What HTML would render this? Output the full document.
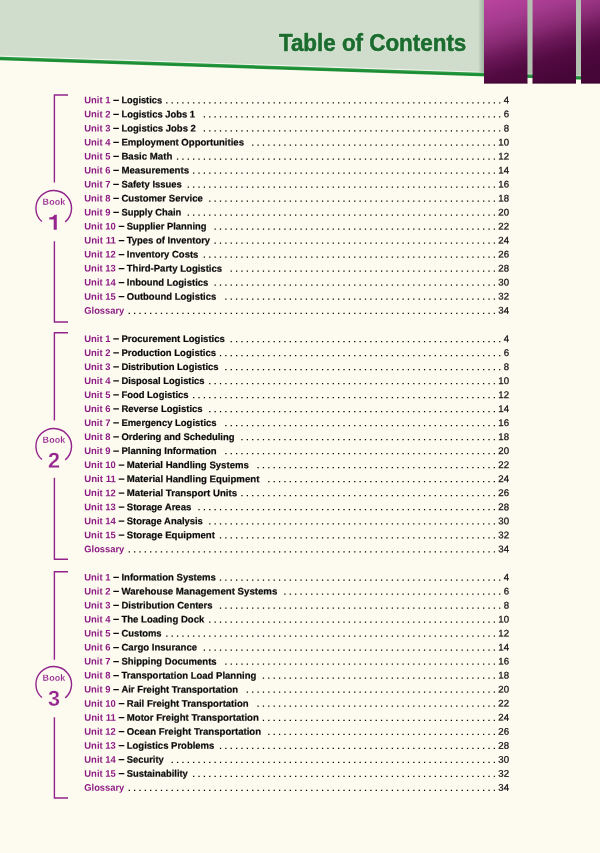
<!DOCTYPE html><html><head><meta charset="utf-8"><title>Table of Contents</title><style>
html,body{margin:0;padding:0;}
body{width:600px;height:853px;position:relative;overflow:hidden;background:#fdfbf0;font-family:"Liberation Sans",sans-serif;}
.n{font-size:9.64px;font-weight:normal;fill:#111;stroke:#111;stroke-width:0.25px;text-anchor:end;}
</style></head><body>
<div style="position:absolute;left:0;top:0;width:600px;height:853px;will-change:transform">
<svg style="position:absolute;left:0;top:0" width="600" height="100" viewBox="0 0 600 100">
<defs>
<linearGradient id="pg" gradientUnits="userSpaceOnUse" x1="484" y1="0" x2="512" y2="92">
<stop offset="0" stop-color="#ba449f"/><stop offset="0.25" stop-color="#a53b8e"/><stop offset="0.45" stop-color="#8a2b75"/><stop offset="0.62" stop-color="#691656"/><stop offset="0.78" stop-color="#520a41"/><stop offset="1" stop-color="#470638"/>
</linearGradient>
<linearGradient id="sh" x1="0" y1="0" x2="1" y2="0">
<stop offset="0" stop-color="#6f8672" stop-opacity="0"/><stop offset="1" stop-color="#6f8672" stop-opacity="0.5"/>
</linearGradient>
</defs>
<polygon points="0,0 600,0 600,77 0,57" fill="#d0ddcc"/>
<polygon points="0,55.6 600,75.65 600,77.05 0,57" fill="#f1f5ee"/>
<polygon points="0,56.8 600,76.85 600,80.35 0,60.3" fill="#279a3f"/>
<polygon points="0,58.2 600,78.25 600,79.55 0,59.5" fill="#1c8834"/>
<rect x="478" y="0" width="6" height="72.8" fill="url(#sh)"/>
<rect x="527.5" y="0" width="5" height="75.6" fill="#6f8672" fill-opacity="0.3"/>
<rect x="576" y="0" width="5" height="77.2" fill="#6f8672" fill-opacity="0.3"/>
<rect x="484" y="0" width="43.5" height="83.5" fill="url(#pg)"/>
<rect x="532.5" y="0" width="43.5" height="83.5" fill="url(#pg)"/>
<rect x="581" y="0" width="19" height="83.5" fill="url(#pg)"/>
<path d="M484 83H527.5M532.5 83H576M581 83H600" stroke="#2a0220" stroke-opacity="0.45" stroke-width="1" fill="none"/>
<g font-family="Liberation Sans, sans-serif" font-weight="bold" font-size="24" fill="#1b6c2e">
<g stroke="#dde8d9" stroke-width="2" stroke-linejoin="round"><text id="ttl" x="278.9" y="50.5" textLength="187.4" lengthAdjust="spacingAndGlyphs">Table of Contents</text></g>
<use href="#ttl" stroke="#1b6c2e" stroke-width="0.6"/>
</g>
</svg>

<svg style="position:absolute;left:0;top:0" width="600" height="853" viewBox="0 0 600 853">
<g fill="none" stroke="#92238c" stroke-width="1.4">
<path d="M68 95H54.4V182.5M54.4 241.2V321.95H68M41.9 221.6A17.8 17.8 0 1 1 65.2 221.9"/>
<path d="M68 332.75H54.4V420.5M54.4 477.8V559.25H68M41.9 459.6A17.8 17.8 0 1 1 65.2 459.9"/>
<path d="M68 571.7H54.4V659.7M54.4 717.2V798H68M41.9 697.6A17.8 17.8 0 1 1 65.2 697.9"/>
</g>
<g transform="matrix(1,0.001,0,1,0,0)" font-family="Liberation Sans, sans-serif" font-weight="bold" fill="#96268f" stroke="#fdfbf0" text-anchor="middle">
<g font-size="8.9" stroke-width="0.12" letter-spacing="0.15">
<text x="54" y="204.65">Book</text>
<text x="54" y="442.65">Book</text>
<text x="54" y="680.65">Book</text>
</g>
<path stroke="none" d="M56.8 214.75V229.75H53.7V219.4H49.3V217.3C52 217.3 53.8 216.4 54.4 214.75Z"/>
<g font-size="21.6" stroke-width="0.25">
<text x="54" y="467.75">2</text>
<text x="54" y="705.75">3</text>
</g>
</g>
</svg>

<svg style="position:absolute;left:0;top:0" width="600" height="853" viewBox="0 0 600 853" font-family="Liberation Sans, sans-serif" font-size="9.6" font-weight="bold" fill="#0a0a0a">
<path d="M166.21 102.95H500.28M203.78 116.97H500.28M203.78 130.99H500.28M252.1 145.01H494.92M176.94 159.03H494.92M193.05 173.05H494.92M187.68 187.07H494.92M209.15 201.09H494.92M187.68 215.11H494.92M214.52 229.13H494.92M214.52 243.15H494.92M203.78 257.17H494.92M230.62 271.19H494.92M214.52 285.21H494.92M225.26 299.23H494.92M128.63 313.25H494.92M230.62 341.5H500.28M219.89 355.52H500.28M225.26 369.54H500.28M209.15 383.56H494.92M193.05 397.58H494.92M209.15 411.6H494.92M225.26 425.62H494.92M241.36 439.64H494.92M225.26 453.66H494.92M257.46 467.68H494.92M268.2 481.7H494.92M241.36 495.72H494.92M198.42 509.74H494.92M209.15 523.76H494.92M219.89 537.78H494.92M128.63 551.8H494.92M219.89 580.05H500.28M284.3 594.07H500.28M219.89 608.09H500.28M209.15 622.11H494.92M166.21 636.13H494.92M203.78 650.15H494.92M225.26 664.17H494.92M262.83 678.19H494.92M246.73 692.21H494.92M257.46 706.23H494.92M262.83 720.25H494.92M268.2 734.27H494.92M219.89 748.29H494.92M171.58 762.31H494.92M193.05 776.33H494.92M128.63 790.35H494.92" stroke="#000" stroke-width="1.25" stroke-dasharray="1.25 4.12" fill="none"/>
<path d="M113.3 100.3h5.6M113.3 114.32h5.6M113.3 128.34h5.6M113.3 142.36h5.6M113.3 156.38h5.6M113.3 170.4h5.6M113.3 184.42h5.6M113.3 198.44h5.6M113.3 212.46h5.6M118.7 226.48h5.6M118.7 240.5h5.6M118.7 254.52h5.6M118.7 268.54h5.6M118.7 282.56h5.6M118.7 296.58h5.6M113.3 338.85h5.6M113.3 352.87h5.6M113.3 366.89h5.6M113.3 380.91h5.6M113.3 394.93h5.6M113.3 408.95h5.6M113.3 422.97h5.6M113.3 436.99h5.6M113.3 451.01h5.6M118.7 465.03h5.6M118.7 479.05h5.6M118.7 493.07h5.6M118.7 507.09h5.6M118.7 521.11h5.6M118.7 535.13h5.6M113.3 577.4h5.6M113.3 591.42h5.6M113.3 605.44h5.6M113.3 619.46h5.6M113.3 633.48h5.6M113.3 647.5h5.6M113.3 661.52h5.6M113.3 675.54h5.6M113.3 689.56h5.6M118.7 703.58h5.6M118.7 717.6h5.6M118.7 731.62h5.6M118.7 745.64h5.6M118.7 759.66h5.6M118.7 773.68h5.6" stroke="#0a0a0a" stroke-width="1.25" fill="none"/>
<g transform="matrix(1,0.001,0,1,0,0)" stroke="#0a0a0a" stroke-width="0.2">
<text x="84.3" y="103.27" fill="#8c1a82" stroke="none" textLength="26.2" lengthAdjust="spacingAndGlyphs">Unit 1</text>
<text x="121.4" y="103.23" textLength="40.7" lengthAdjust="spacingAndGlyphs">Logistics</text>
<text class="n" x="509.0" y="102.84">4</text>
<text x="84.3" y="117.29" fill="#8c1a82" stroke="none" textLength="26.2" lengthAdjust="spacingAndGlyphs">Unit 2</text>
<text x="121.4" y="117.25" textLength="73.7" lengthAdjust="spacingAndGlyphs">Logistics Jobs 1</text>
<text class="n" x="509.0" y="116.86">6</text>
<text x="84.3" y="131.31" fill="#8c1a82" stroke="none" textLength="26.2" lengthAdjust="spacingAndGlyphs">Unit 3</text>
<text x="121.4" y="131.27" textLength="74.45" lengthAdjust="spacingAndGlyphs">Logistics Jobs 2</text>
<text class="n" x="509.0" y="130.88">8</text>
<text x="84.3" y="145.33" fill="#8c1a82" stroke="none" textLength="26.2" lengthAdjust="spacingAndGlyphs">Unit 4</text>
<text x="121.4" y="145.29" textLength="122.6" lengthAdjust="spacingAndGlyphs">Employment Opportunities</text>
<text class="n" x="509.0" y="144.9">10</text>
<text x="84.3" y="159.35" fill="#8c1a82" stroke="none" textLength="26.2" lengthAdjust="spacingAndGlyphs">Unit 5</text>
<text x="121.4" y="159.31" textLength="50.9" lengthAdjust="spacingAndGlyphs">Basic Math</text>
<text class="n" x="509.0" y="158.92">12</text>
<text x="84.3" y="173.37" fill="#8c1a82" stroke="none" textLength="26.2" lengthAdjust="spacingAndGlyphs">Unit 6</text>
<text x="121.4" y="173.33" textLength="67.7" lengthAdjust="spacingAndGlyphs">Measurements</text>
<text class="n" x="509.0" y="172.94">14</text>
<text x="84.3" y="187.39" fill="#8c1a82" stroke="none" textLength="26.2" lengthAdjust="spacingAndGlyphs">Unit 7</text>
<text x="121.4" y="187.35" textLength="60.45" lengthAdjust="spacingAndGlyphs">Safety Issues</text>
<text class="n" x="509.0" y="186.96">16</text>
<text x="84.3" y="201.41" fill="#8c1a82" stroke="none" textLength="26.2" lengthAdjust="spacingAndGlyphs">Unit 8</text>
<text x="121.4" y="201.37" textLength="81.45" lengthAdjust="spacingAndGlyphs">Customer Service</text>
<text class="n" x="509.0" y="200.98">18</text>
<text x="84.3" y="215.43" fill="#8c1a82" stroke="none" textLength="26.2" lengthAdjust="spacingAndGlyphs">Unit 9</text>
<text x="121.4" y="215.39" textLength="59.95" lengthAdjust="spacingAndGlyphs">Supply Chain</text>
<text class="n" x="509.0" y="215">20</text>
<text x="84.3" y="229.45" fill="#8c1a82" stroke="none" textLength="31.5" lengthAdjust="spacingAndGlyphs">Unit 10</text>
<text x="126.75" y="229.4" textLength="79.85" lengthAdjust="spacingAndGlyphs">Supplier Planning</text>
<text class="n" x="509.0" y="229.02">22</text>
<text x="84.3" y="243.47" fill="#8c1a82" stroke="none" textLength="31.5" lengthAdjust="spacingAndGlyphs">Unit 11</text>
<text x="126.75" y="243.42" textLength="83.35" lengthAdjust="spacingAndGlyphs">Types of Inventory</text>
<text class="n" x="509.0" y="243.04">24</text>
<text x="84.3" y="257.49" fill="#8c1a82" stroke="none" textLength="31.5" lengthAdjust="spacingAndGlyphs">Unit 12</text>
<text x="126.75" y="257.44" textLength="71.6" lengthAdjust="spacingAndGlyphs">Inventory Costs</text>
<text class="n" x="509.0" y="257.06">26</text>
<text x="84.3" y="271.51" fill="#8c1a82" stroke="none" textLength="31.5" lengthAdjust="spacingAndGlyphs">Unit 13</text>
<text x="126.75" y="271.46" textLength="95.35" lengthAdjust="spacingAndGlyphs">Third-Party Logistics</text>
<text class="n" x="509.0" y="271.08">28</text>
<text x="84.3" y="285.53" fill="#8c1a82" stroke="none" textLength="31.5" lengthAdjust="spacingAndGlyphs">Unit 14</text>
<text x="126.75" y="285.48" textLength="81.55" lengthAdjust="spacingAndGlyphs">Inbound Logistics</text>
<text class="n" x="509.0" y="285.1">30</text>
<text x="84.3" y="299.55" fill="#8c1a82" stroke="none" textLength="31.5" lengthAdjust="spacingAndGlyphs">Unit 15</text>
<text x="126.75" y="299.5" textLength="89.55" lengthAdjust="spacingAndGlyphs">Outbound Logistics</text>
<text class="n" x="509.0" y="299.12">32</text>
<text x="84.3" y="313.57" fill="#8c1a82" stroke="none" textLength="40" lengthAdjust="spacingAndGlyphs">Glossary</text>
<text class="n" x="509.0" y="313.14">34</text>
<text x="84.3" y="341.82" fill="#8c1a82" stroke="none" textLength="26.2" lengthAdjust="spacingAndGlyphs">Unit 1</text>
<text x="121.4" y="341.78" textLength="103.5" lengthAdjust="spacingAndGlyphs">Procurement Logistics</text>
<text class="n" x="509.0" y="341.39">4</text>
<text x="84.3" y="355.84" fill="#8c1a82" stroke="none" textLength="26.2" lengthAdjust="spacingAndGlyphs">Unit 2</text>
<text x="121.4" y="355.8" textLength="94.7" lengthAdjust="spacingAndGlyphs">Production Logistics</text>
<text class="n" x="509.0" y="355.41">6</text>
<text x="84.3" y="369.86" fill="#8c1a82" stroke="none" textLength="26.2" lengthAdjust="spacingAndGlyphs">Unit 3</text>
<text x="121.4" y="369.82" textLength="97.2" lengthAdjust="spacingAndGlyphs">Distribution Logistics</text>
<text class="n" x="509.0" y="369.43">8</text>
<text x="84.3" y="383.88" fill="#8c1a82" stroke="none" textLength="26.2" lengthAdjust="spacingAndGlyphs">Unit 4</text>
<text x="121.4" y="383.84" textLength="83.2" lengthAdjust="spacingAndGlyphs">Disposal Logistics</text>
<text class="n" x="509.0" y="383.45">10</text>
<text x="84.3" y="397.9" fill="#8c1a82" stroke="none" textLength="26.2" lengthAdjust="spacingAndGlyphs">Unit 5</text>
<text x="121.4" y="397.86" textLength="67.2" lengthAdjust="spacingAndGlyphs">Food Logistics</text>
<text class="n" x="509.0" y="397.47">12</text>
<text x="84.3" y="411.92" fill="#8c1a82" stroke="none" textLength="26.2" lengthAdjust="spacingAndGlyphs">Unit 6</text>
<text x="121.4" y="411.88" textLength="81.2" lengthAdjust="spacingAndGlyphs">Reverse Logistics</text>
<text class="n" x="509.0" y="411.49">14</text>
<text x="84.3" y="425.94" fill="#8c1a82" stroke="none" textLength="26.2" lengthAdjust="spacingAndGlyphs">Unit 7</text>
<text x="121.4" y="425.9" textLength="95.2" lengthAdjust="spacingAndGlyphs">Emergency Logistics</text>
<text class="n" x="509.0" y="425.51">16</text>
<text x="84.3" y="439.96" fill="#8c1a82" stroke="none" textLength="26.2" lengthAdjust="spacingAndGlyphs">Unit 8</text>
<text x="121.4" y="439.92" textLength="113.2" lengthAdjust="spacingAndGlyphs">Ordering and Scheduling</text>
<text class="n" x="509.0" y="439.53">18</text>
<text x="84.3" y="453.98" fill="#8c1a82" stroke="none" textLength="26.2" lengthAdjust="spacingAndGlyphs">Unit 9</text>
<text x="121.4" y="453.94" textLength="95.2" lengthAdjust="spacingAndGlyphs">Planning Information</text>
<text class="n" x="509.0" y="453.55">20</text>
<text x="84.3" y="468" fill="#8c1a82" stroke="none" textLength="31.5" lengthAdjust="spacingAndGlyphs">Unit 10</text>
<text x="126.75" y="467.95" textLength="122.1" lengthAdjust="spacingAndGlyphs">Material Handling Systems</text>
<text class="n" x="509.0" y="467.57">22</text>
<text x="84.3" y="482.02" fill="#8c1a82" stroke="none" textLength="31.5" lengthAdjust="spacingAndGlyphs">Unit 11</text>
<text x="126.75" y="481.97" textLength="132.6" lengthAdjust="spacingAndGlyphs">Material Handling Equipment</text>
<text class="n" x="509.0" y="481.59">24</text>
<text x="84.3" y="496.04" fill="#8c1a82" stroke="none" textLength="31.5" lengthAdjust="spacingAndGlyphs">Unit 12</text>
<text x="126.75" y="495.99" textLength="110.35" lengthAdjust="spacingAndGlyphs">Material Transport Units</text>
<text class="n" x="509.0" y="495.61">26</text>
<text x="84.3" y="510.06" fill="#8c1a82" stroke="none" textLength="31.5" lengthAdjust="spacingAndGlyphs">Unit 13</text>
<text x="126.75" y="510.01" textLength="64.6" lengthAdjust="spacingAndGlyphs">Storage Areas</text>
<text class="n" x="509.0" y="509.63">28</text>
<text x="84.3" y="524.08" fill="#8c1a82" stroke="none" textLength="31.5" lengthAdjust="spacingAndGlyphs">Unit 14</text>
<text x="126.75" y="524.03" textLength="76.1" lengthAdjust="spacingAndGlyphs">Storage Analysis</text>
<text class="n" x="509.0" y="523.65">30</text>
<text x="84.3" y="538.1" fill="#8c1a82" stroke="none" textLength="31.5" lengthAdjust="spacingAndGlyphs">Unit 15</text>
<text x="126.75" y="538.05" textLength="88.1" lengthAdjust="spacingAndGlyphs">Storage Equipment</text>
<text class="n" x="509.0" y="537.67">32</text>
<text x="84.3" y="552.12" fill="#8c1a82" stroke="none" textLength="40" lengthAdjust="spacingAndGlyphs">Glossary</text>
<text class="n" x="509.0" y="551.69">34</text>
<text x="84.3" y="580.37" fill="#8c1a82" stroke="none" textLength="26.2" lengthAdjust="spacingAndGlyphs">Unit 1</text>
<text x="121.4" y="580.33" textLength="94.5" lengthAdjust="spacingAndGlyphs">Information Systems</text>
<text class="n" x="509.0" y="579.94">4</text>
<text x="84.3" y="594.39" fill="#8c1a82" stroke="none" textLength="26.2" lengthAdjust="spacingAndGlyphs">Unit 2</text>
<text x="121.4" y="594.35" textLength="155.95" lengthAdjust="spacingAndGlyphs">Warehouse Management Systems</text>
<text class="n" x="509.0" y="593.96">6</text>
<text x="84.3" y="608.41" fill="#8c1a82" stroke="none" textLength="26.2" lengthAdjust="spacingAndGlyphs">Unit 3</text>
<text x="121.4" y="608.37" textLength="91.2" lengthAdjust="spacingAndGlyphs">Distribution Centers</text>
<text class="n" x="509.0" y="607.98">8</text>
<text x="84.3" y="622.43" fill="#8c1a82" stroke="none" textLength="26.2" lengthAdjust="spacingAndGlyphs">Unit 4</text>
<text x="121.4" y="622.39" textLength="82.95" lengthAdjust="spacingAndGlyphs">The Loading Dock</text>
<text class="n" x="509.0" y="622">10</text>
<text x="84.3" y="636.45" fill="#8c1a82" stroke="none" textLength="26.2" lengthAdjust="spacingAndGlyphs">Unit 5</text>
<text x="121.4" y="636.41" textLength="40.2" lengthAdjust="spacingAndGlyphs">Customs</text>
<text class="n" x="509.0" y="636.02">12</text>
<text x="84.3" y="650.47" fill="#8c1a82" stroke="none" textLength="26.2" lengthAdjust="spacingAndGlyphs">Unit 6</text>
<text x="121.4" y="650.43" textLength="75.7" lengthAdjust="spacingAndGlyphs">Cargo Insurance</text>
<text class="n" x="509.0" y="650.04">14</text>
<text x="84.3" y="664.49" fill="#8c1a82" stroke="none" textLength="26.2" lengthAdjust="spacingAndGlyphs">Unit 7</text>
<text x="121.4" y="664.45" textLength="95.2" lengthAdjust="spacingAndGlyphs">Shipping Documents</text>
<text class="n" x="509.0" y="664.06">16</text>
<text x="84.3" y="678.51" fill="#8c1a82" stroke="none" textLength="26.2" lengthAdjust="spacingAndGlyphs">Unit 8</text>
<text x="121.4" y="678.47" textLength="134.9" lengthAdjust="spacingAndGlyphs">Transportation Load Planning</text>
<text class="n" x="509.0" y="678.08">18</text>
<text x="84.3" y="692.53" fill="#8c1a82" stroke="none" textLength="26.2" lengthAdjust="spacingAndGlyphs">Unit 9</text>
<text x="121.4" y="692.49" textLength="116.7" lengthAdjust="spacingAndGlyphs">Air Freight Transportation</text>
<text class="n" x="509.0" y="692.1">20</text>
<text x="84.3" y="706.55" fill="#8c1a82" stroke="none" textLength="31.5" lengthAdjust="spacingAndGlyphs">Unit 10</text>
<text x="126.75" y="706.5" textLength="121.85" lengthAdjust="spacingAndGlyphs">Rail Freight Transportation</text>
<text class="n" x="509.0" y="706.12">22</text>
<text x="84.3" y="720.57" fill="#8c1a82" stroke="none" textLength="31.5" lengthAdjust="spacingAndGlyphs">Unit 11</text>
<text x="126.75" y="720.52" textLength="132.15" lengthAdjust="spacingAndGlyphs">Motor Freight Transportation</text>
<text class="n" x="509.0" y="720.14">24</text>
<text x="84.3" y="734.59" fill="#8c1a82" stroke="none" textLength="31.5" lengthAdjust="spacingAndGlyphs">Unit 12</text>
<text x="126.75" y="734.54" textLength="134.35" lengthAdjust="spacingAndGlyphs">Ocean Freight Transportation</text>
<text class="n" x="509.0" y="734.16">26</text>
<text x="84.3" y="748.61" fill="#8c1a82" stroke="none" textLength="31.5" lengthAdjust="spacingAndGlyphs">Unit 13</text>
<text x="126.75" y="748.56" textLength="87.6" lengthAdjust="spacingAndGlyphs">Logistics Problems</text>
<text class="n" x="509.0" y="748.18">28</text>
<text x="84.3" y="762.63" fill="#8c1a82" stroke="none" textLength="31.5" lengthAdjust="spacingAndGlyphs">Unit 14</text>
<text x="126.75" y="762.58" textLength="37.1" lengthAdjust="spacingAndGlyphs">Security</text>
<text class="n" x="509.0" y="762.2">30</text>
<text x="84.3" y="776.65" fill="#8c1a82" stroke="none" textLength="31.5" lengthAdjust="spacingAndGlyphs">Unit 15</text>
<text x="126.75" y="776.6" textLength="61.1" lengthAdjust="spacingAndGlyphs">Sustainability</text>
<text class="n" x="509.0" y="776.22">32</text>
<text x="84.3" y="790.67" fill="#8c1a82" stroke="none" textLength="40" lengthAdjust="spacingAndGlyphs">Glossary</text>
<text class="n" x="509.0" y="790.24">34</text>
</g>
</svg>
</div>
</body></html>
